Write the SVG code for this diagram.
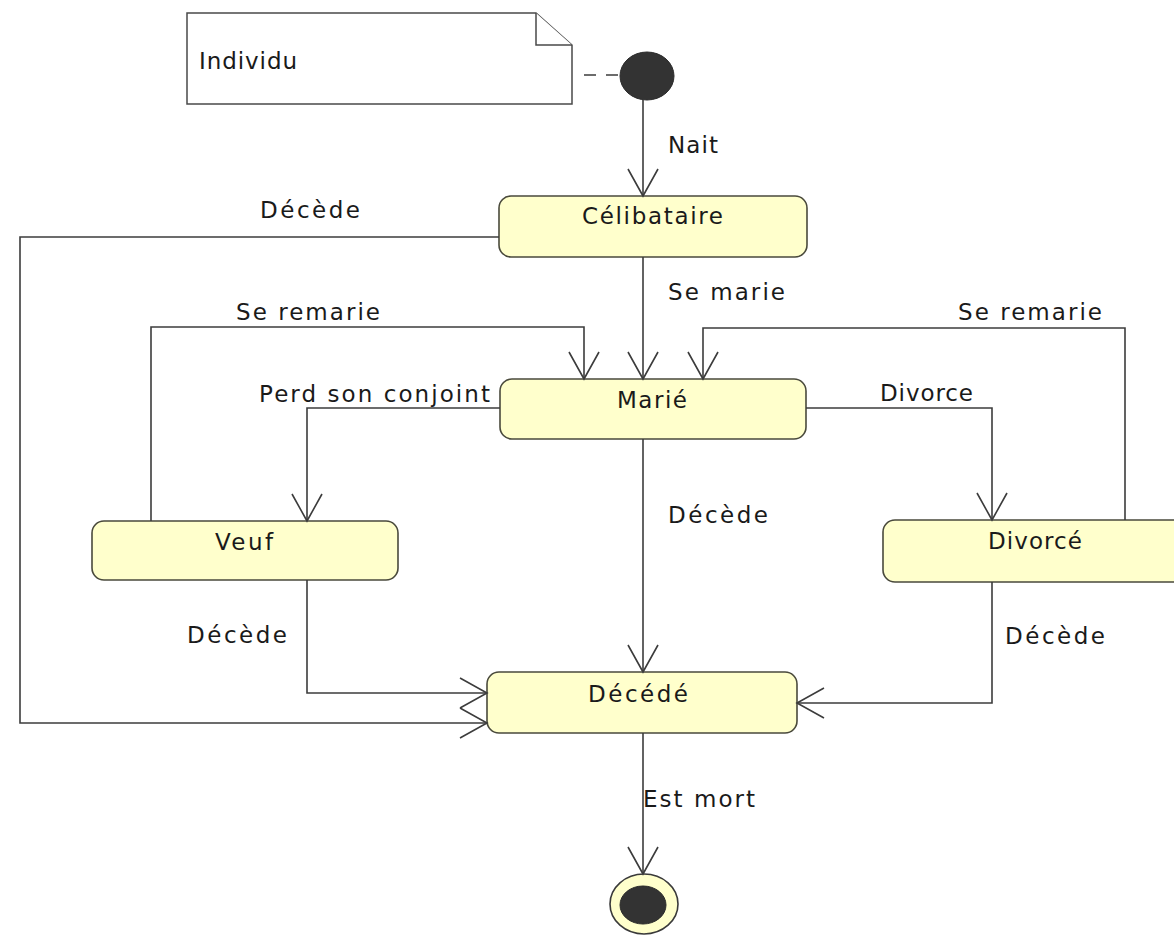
<svg xmlns="http://www.w3.org/2000/svg" width="1174" height="936" viewBox="0 0 1174 936">
<style>
  .bg { fill: #ffffff; }
  .state { fill: #ffffcc; stroke: #4a4a3c; stroke-width: 1.6; }
  .note { fill: #ffffff; stroke: #4a4a4a; stroke-width: 1.5; }
  .conn { fill: none; stroke: #3c3c3c; stroke-width: 1.6; }
  .dash { fill: none; stroke: #3c3c3c; stroke-width: 1.6; stroke-dasharray: 12 10; }
  text { font-family: "DejaVu Sans", Verdana, sans-serif; font-size: 23px; fill: #1a1a1a; }
</style>
<defs>
  <marker id="open" markerUnits="userSpaceOnUse" markerWidth="40" markerHeight="40" viewBox="-30 -20 32 40" refX="0" refY="0" orient="auto">
    <path d="M-27,-15 L0,0 L-27,15" fill="none" stroke="#3c3c3c" stroke-width="1.6"/>
  </marker>
</defs>
<rect class="bg" x="0" y="0" width="1174" height="936"/>

<g id="note">
  <path class="note" d="M187,13 H536 L572,45 V104 H187 Z"/>
  <path class="note" d="M536,13 V45 H572" fill="none"/>
  <text x="199" y="69" textLength="98" lengthAdjust="spacing">Individu</text>
</g>

<g id="initial">
  <ellipse cx="647" cy="76" rx="27" ry="24" fill="#333333" stroke="#2a2a2a" stroke-width="1"/>
</g>

<g id="celibataire">
  <rect class="state" x="499" y="196" width="308" height="61" rx="12"/>
  <text x="582" y="224" textLength="141" lengthAdjust="spacing">Célibataire</text>
</g>

<g id="marie">
  <rect class="state" x="500" y="379" width="306" height="60" rx="12"/>
  <text x="617" y="408" textLength="70" lengthAdjust="spacing">Marié</text>
</g>

<g id="veuf">
  <rect class="state" x="92" y="521" width="306" height="59" rx="12"/>
  <text x="215" y="550" textLength="58" lengthAdjust="spacing">Veuf</text>
</g>

<g id="divorce">
  <rect class="state" x="883" y="520" width="310" height="62" rx="12"/>
  <text x="988" y="549" textLength="94" lengthAdjust="spacing">Divorcé</text>
</g>

<g id="decede">
  <rect class="state" x="487" y="672" width="310" height="61" rx="12"/>
  <text x="588" y="702" textLength="100" lengthAdjust="spacing">Décédé</text>
</g>

<g id="final">
  <ellipse cx="644" cy="904" rx="34" ry="30" fill="#ffffcc" stroke="#3a3a3a" stroke-width="1.6"/>
  <ellipse cx="643" cy="905" rx="23" ry="19" fill="#333333" stroke="#2a2a2a" stroke-width="1"/>
</g>

<g id="connectors">
  <path class="dash" d="M584,75 H620"/>
  <path class="conn" d="M643,100 V196" marker-end="url(#open)"/>
  <path class="conn" d="M643,257 V379" marker-end="url(#open)"/>
  <path class="conn" d="M643,439 V672" marker-end="url(#open)"/>
  <path class="conn" d="M643,733 V874" marker-end="url(#open)"/>
  <path class="conn" d="M499,237 H20 V723 H487" marker-end="url(#open)"/>
  <path class="conn" d="M151,521 V327 H584 V379" marker-end="url(#open)"/>
  <path class="conn" d="M1125,520 V328 H703 V379" marker-end="url(#open)"/>
  <path class="conn" d="M500,408 H307 V521" marker-end="url(#open)"/>
  <path class="conn" d="M806,408 H992 V520" marker-end="url(#open)"/>
  <path class="conn" d="M307,580 V693 H487" marker-end="url(#open)"/>
  <path class="conn" d="M992,582 V703 H797" marker-end="url(#open)"/>
</g>

<g id="labels">
  <text x="668" y="153" textLength="50" lengthAdjust="spacing">Nait</text>
  <text x="260" y="218" textLength="100" lengthAdjust="spacing">Décède</text>
  <text x="668" y="300" textLength="117" lengthAdjust="spacing">Se marie</text>
  <text x="236" y="320" textLength="144" lengthAdjust="spacing">Se remarie</text>
  <text x="958" y="320" textLength="144" lengthAdjust="spacing">Se remarie</text>
  <text x="259" y="402" textLength="231" lengthAdjust="spacing">Perd son conjoint</text>
  <text x="880" y="401" textLength="93" lengthAdjust="spacing">Divorce</text>
  <text x="668" y="523" textLength="100" lengthAdjust="spacing">Décède</text>
  <text x="187" y="643" textLength="100" lengthAdjust="spacing">Décède</text>
  <text x="1005" y="644" textLength="100" lengthAdjust="spacing">Décède</text>
  <text x="643" y="807" textLength="112" lengthAdjust="spacing">Est mort</text>
</g>
</svg>
